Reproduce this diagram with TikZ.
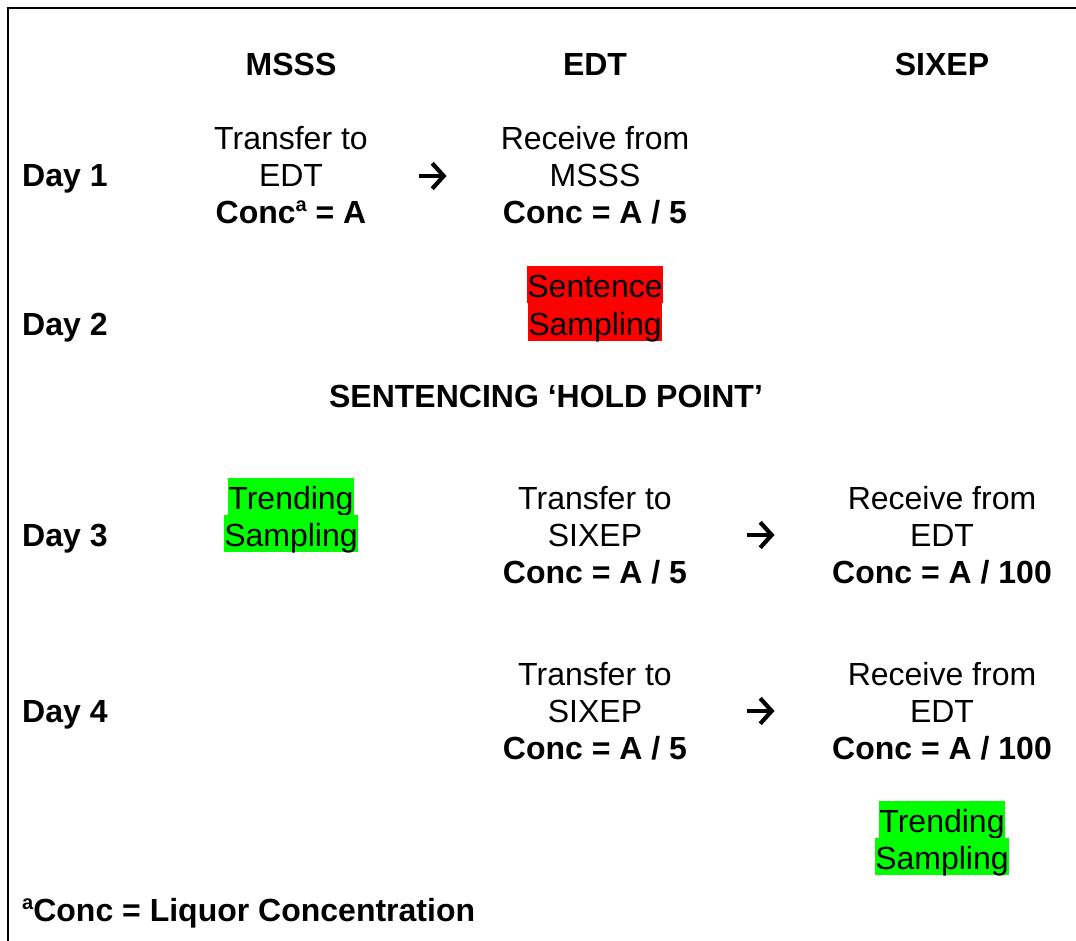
\documentclass[tikz,border=0pt]{standalone}
\usepackage{fontspec}
\setmainfont{Liberation Sans}
\newcommand{\supa}{\raisebox{12pt}{\fontsize{20}{20}\selectfont a}}
\begin{document}
\begin{tikzpicture}[x=1pt,y=-1pt,
  txt/.style={anchor=base,inner sep=0pt,font=\fontsize{32}{37}\selectfont},
  bold/.style={txt,font=\fontsize{32}{37}\selectfont\bfseries},
  lefttxt/.style={bold,anchor=base west},
  hilite/.style={txt,text height=31.5pt,text depth=5.5pt,inner xsep=0.5pt},
  redmark/.style={hilite,fill=red},
  greenmark/.style={hilite,fill=green},
  arrowbox/.style={inner sep=0pt,minimum width=26pt,minimum height=25pt},
  glyph/.style={line width=4.2pt,miter limit=10}]
\useasboundingbox (0,0) rectangle (1076,941);

% frame (left and top rules only)
\draw[line width=2pt] (8,941) -- (8,8) -- (1076,8);

% column headings
\node[bold] (hM) at (291,76) {MSSS};
\node[bold] (hE) at (595,76) {EDT};
\node[bold] (hS) at (942,76) {SIXEP};

% day labels
\node[lefttxt] (d1) at (22,187) {Day 1};
\node[lefttxt] (d2) at (22,335) {Day 2};
\node[lefttxt] (d3) at (22,546) {Day 3};
\node[lefttxt] (d4) at (22,722) {Day 4};

% day 1
\node[txt]  (m1a) at (291,150) {Transfer to};
\node[txt]  (m1b) at (291,187) {EDT};
\node[bold] (m1c) at (291,224) {Conc\supa{} = A};
\node[txt]  (e1a) at (595,150) {Receive from};
\node[txt]  (e1b) at (595,187) {MSSS};
\node[bold] (e1c) at (595,224) {Conc = A / 5};
\node[arrowbox] (ar1) at (432,176) {};

% day 2
\node[redmark] (e2a) at (595,298) {Sentence};
\node[redmark] (e2b) at (595,335) {Sampling};

\node[bold] (hold) at (546,407) {SENTENCING ‘HOLD POINT’};

% day 3
\node[greenmark] (m3a) at (291,509) {Trending};
\node[greenmark] (m3b) at (291,546) {Sampling};
\node[txt]  (e3a) at (595,509) {Transfer to};
\node[txt]  (e3b) at (595,546) {SIXEP};
\node[bold] (e3c) at (595,583) {Conc = A / 5};
\node[txt]  (s3a) at (942,509) {Receive from};
\node[txt]  (s3b) at (942,546) {EDT};
\node[bold] (s3c) at (942,583) {Conc = A / 100};
\node[arrowbox] (ar3) at (760,535) {};

% day 4
\node[txt]  (e4a) at (595,685) {Transfer to};
\node[txt]  (e4b) at (595,722) {SIXEP};
\node[bold] (e4c) at (595,759) {Conc = A / 5};
\node[txt]  (s4a) at (942,685) {Receive from};
\node[txt]  (s4b) at (942,722) {EDT};
\node[bold] (s4c) at (942,759) {Conc = A / 100};
\node[arrowbox] (ar4) at (760,711) {};
\node[greenmark] (s4d) at (942,832) {Trending};
\node[greenmark] (s4e) at (942,869) {Sampling};

% footnote
\node[lefttxt] (fn) at (22,921) {\supa Conc = Liquor Concentration};

% arrow glyphs
\foreach \a in {ar1,ar3,ar4}{
  \draw[glyph] (\a.west) -- ([xshift=-2pt]\a.east);
  \draw[glyph] ([xshift=-13pt]\a.north east) -- ([xshift=-1.5pt]\a.east) -- ([xshift=-13pt]\a.south east);
}
\end{tikzpicture}
\end{document}
